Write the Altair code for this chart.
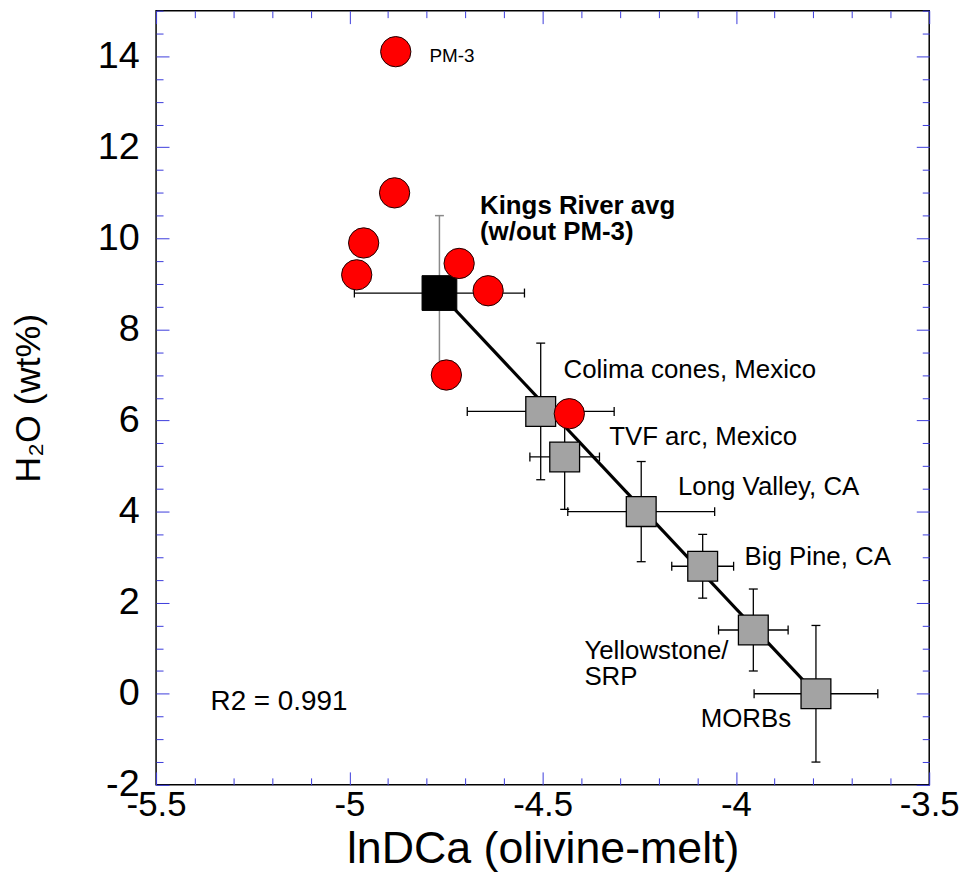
import altair as alt
import pandas as pd

# ---- data ----
# Kings River olivines (red circles)
kr_x = [-4.880, -4.883, -4.963, -4.981, -4.716, -4.641, -4.749, -4.431]
kr_y = [14.1, 11.0, 9.9, 9.2, 9.45, 8.85, 7.0, 6.15]

# Kings River average (w/out PM-3), black square
avg_x = [-4.767]
avg_y = [8.8]
avg_xerr = [0.22]
avg_yerr = [1.7]

# reference suites (grey squares)
ref_names = ["Colima cones, Mexico", "TVF arc, Mexico", "Long Valley, CA",
             "Big Pine, CA", "Yellowstone/SRP", "MORBs"]
ref_x = [-4.505, -4.443, -4.245, -4.086, -3.955, -3.793]
ref_y = [6.2, 5.2, 4.0, 2.8, 1.4, 0.0]
ref_xerr = [0.19, 0.09, 0.19, 0.08, 0.09, 0.16]
ref_yerr = [1.5, 1.15, 1.1, 0.7, 0.9, 1.5]

# regression line
fit_x = [-4.767, -3.793]
fit_y = [8.8, 0.0]

# annotation labels (data coordinates, left aligned, baseline)
lab_text = ["Colima cones, Mexico", "TVF arc, Mexico", "Long Valley, CA",
            "Big Pine, CA", "Yellowstone/", "SRP", "MORBs"]
lab_x = [-4.446, -4.328, -4.150, -3.978, -4.392, -4.392, -4.091]
lab_y = [6.935, 5.457, 4.37, 2.826, 0.761, 0.196, -0.739]

pm_text = ["PM-3"]
pm_x = [-4.793]
pm_y = [13.87]

kings_text = ["Kings River avg", "(w/out PM-3)"]
kings_x = [-4.662, -4.662]
kings_y = [10.543, 9.957]

r2_text = ["R2 = 0.991"]
r2_x = [-5.359]
r2_y = [-0.348]

# axis ticks
x_major = [-5.5, -5.0, -4.5, -4.0, -3.5]
x_minor = [round(-5.5 + 0.1 * i, 2) for i in range(21) if i % 5 != 0]
y_major = [-2, 0, 2, 4, 6, 8, 10, 12, 14]
y_minor = [v / 2 for v in range(-4, 31) if v % 4 != 0]

# ---- tables ----
ref_df = pd.DataFrame({"name": ref_names, "x": ref_x, "y": ref_y,
                       "xerr": ref_xerr, "yerr": ref_yerr})
ref_df["xlo"] = ref_df.x - ref_df.xerr
ref_df["xhi"] = ref_df.x + ref_df.xerr
ref_df["ylo"] = ref_df.y - ref_df.yerr
ref_df["yhi"] = ref_df.y + ref_df.yerr
hcaps = pd.DataFrame({"x": list(ref_df.xlo) + list(ref_df.xhi), "y": ref_y * 2})
vcaps = pd.DataFrame({"x": ref_x * 2, "y": list(ref_df.ylo) + list(ref_df.yhi)})

avg_df = pd.DataFrame({"x": avg_x, "y": avg_y, "xerr": avg_xerr, "yerr": avg_yerr})
avg_df["xlo"] = avg_df.x - avg_df.xerr
avg_df["xhi"] = avg_df.x + avg_df.xerr
avg_df["ylo"] = avg_df.y - avg_df.yerr
avg_df["yhi"] = avg_df.y + avg_df.yerr
avg_hcaps = pd.DataFrame({"x": list(avg_df.xlo) + list(avg_df.xhi), "y": avg_y * 2})
avg_vcaps = pd.DataFrame({"x": avg_x * 2, "y": list(avg_df.ylo) + list(avg_df.yhi)})

kr_df = pd.DataFrame({"x": kr_x, "y": kr_y})
fit_df = pd.DataFrame({"x": fit_x, "y": fit_y})
lab_df = pd.DataFrame({"t": lab_text, "x": lab_x, "y": lab_y})
pm_df = pd.DataFrame({"t": pm_text, "x": pm_x, "y": pm_y})
kings_df = pd.DataFrame({"t": kings_text, "x": kings_x, "y": kings_y})
r2_df = pd.DataFrame({"t": r2_text, "x": r2_x, "y": r2_y})

# ---- styling helpers ----
FONT = "Liberation Sans"
BLUE = "#3b3bdc"
XS = alt.Scale(domain=[-5.5, -3.5], nice=False, zero=False)
YS = alt.Scale(domain=[-2, 15], nice=False, zero=False)


def tick_axis(orient, values, size):
    return alt.Axis(orient=orient, values=values, labels=False, domain=False, grid=False,
                    ticks=True, tickSize=size, tickColor=BLUE, tickWidth=1,
                    offset=-size, title="")


x_main = alt.Axis(orient="bottom", values=x_major, labelExpr="toString(datum.value)",
                  ticks=False, tickSize=0, domain=False, grid=False, labelFont=FONT,
                  labelFontSize=35, labelColor="black", labelPadding=3, labelFlush=False,
                  labelOverlap=False, title="lnDCa (olivine-melt)", titleFont=FONT,
                  titleFontSize=45, titleFontWeight="normal", titleColor="black",
                  titlePadding=4)
y_main = alt.Axis(orient="left", values=y_major, labelExpr="toString(datum.value)",
                  ticks=False, tickSize=0, domain=False, grid=False, labelFont=FONT,
                  labelFontSize=38, labelColor="black", labelPadding=17, labelFlush=False,
                  labelOverlap=False, title="H₂O (wt%)", titleFont=FONT, titleFontSize=36,
                  titleFontWeight="normal", titleColor="black", titlePadding=50)


def xe(field, axis=None):
    return alt.X(f"{field}:Q", scale=XS, axis=axis)


def ye(field, axis=None):
    return alt.Y(f"{field}:Q", scale=YS, axis=axis)


# error bars of reference suites
hbar = alt.Chart(ref_df).mark_rule(color="black", strokeWidth=1.3).encode(
    x=xe("xlo", x_main), x2="xhi", y=ye("y", y_main))
vbar = alt.Chart(ref_df).mark_rule(color="black", strokeWidth=1.3).encode(
    x=xe("x", tick_axis("bottom", x_major, 13)), y=ye("ylo", tick_axis("left", y_major, 13)), y2="yhi")
hcap = alt.Chart(hcaps).mark_tick(orient="vertical", size=9, thickness=1.3, color="black", opacity=1).encode(
    x=xe("x", tick_axis("bottom", x_minor, 7)), y=ye("y", tick_axis("left", y_minor, 7)))
vcap = alt.Chart(vcaps).mark_tick(orient="horizontal", size=9, thickness=1.3, color="black", opacity=1).encode(
    x=xe("x", tick_axis("top", x_major, 13)), y=ye("y", tick_axis("right", y_major, 13)))

# error bars of Kings River average
avg_h = alt.Chart(avg_df).mark_rule(color="black", strokeWidth=1.3).encode(
    x=xe("xlo", tick_axis("top", x_minor, 7)), x2="xhi", y=ye("y", tick_axis("right", y_minor, 7)))
avg_v = alt.Chart(avg_df).mark_rule(color="#8a8a8a", strokeWidth=1.5).encode(
    x=xe("x"), y=ye("ylo"), y2="yhi")
avg_hc = alt.Chart(avg_hcaps).mark_tick(orient="vertical", size=9, thickness=1.3, color="black", opacity=1).encode(
    x=xe("x"), y=ye("y"))
avg_vc = alt.Chart(avg_vcaps).mark_tick(orient="horizontal", size=9, thickness=1.5, color="#8a8a8a", opacity=1).encode(
    x=xe("x"), y=ye("y"))

fit = alt.Chart(fit_df).mark_line(color="black", strokeWidth=3.2).encode(x=xe("x"), y=ye("y"))

ref_pts = alt.Chart(ref_df).mark_square(size=900, color="#a3a3a3", stroke="black",
                                        strokeWidth=1.3, opacity=1).encode(x=xe("x"), y=ye("y"))
avg_pt = alt.Chart(avg_df).mark_square(size=1225, color="black", stroke="black",
                                       strokeWidth=1, opacity=1).encode(x=xe("x"), y=ye("y"))
kr_pts = alt.Chart(kr_df).mark_circle(size=930, color="#ff0000", stroke="#1a0000",
                                      strokeWidth=1, opacity=1).encode(x=xe("x"), y=ye("y"))

labels = alt.Chart(lab_df).mark_text(align="left", baseline="alphabetic", font=FONT,
                                     fontSize=26, color="black").encode(x=xe("x"), y=ye("y"), text="t:N")
pm_lab = alt.Chart(pm_df).mark_text(align="left", baseline="alphabetic", font=FONT,
                                    fontSize=19, color="black").encode(x=xe("x"), y=ye("y"), text="t:N")
kings_lab = alt.Chart(kings_df).mark_text(align="left", baseline="alphabetic", font=FONT,
                                          fontSize=26, fontWeight="bold", color="black").encode(
    x=xe("x"), y=ye("y"), text="t:N")
r2_lab = alt.Chart(r2_df).mark_text(align="left", baseline="alphabetic", font=FONT,
                                    fontSize=28, color="black").encode(x=xe("x"), y=ye("y"), text="t:N")

chart = alt.layer(
    hbar, vbar, hcap, vcap, avg_h, avg_v, avg_hc, avg_vc, fit, ref_pts, avg_pt, kr_pts,
    labels, pm_lab, kings_lab, r2_lab
).resolve_axis(x="independent", y="independent").properties(
    width=778, height=779,
    autosize=alt.AutoSizeParams(type="none"),
    padding={"left": 149, "top": 0, "right": 34, "bottom": 86},
    background="white",
).configure_view(stroke="black", strokeWidth=1.5)

chart.save("out.html", embed_options={"renderer": "svg", "actions": False})
